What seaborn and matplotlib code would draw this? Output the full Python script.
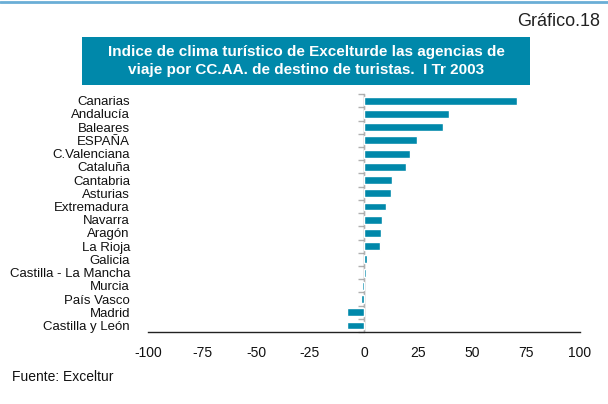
import pandas as pd
import matplotlib.pyplot as plt
import seaborn as sns
from matplotlib.patches import Rectangle
from matplotlib.lines import Line2D

# data
regions = ['Canarias', 'Andalucía', 'Baleares', 'ESPAÑA', 'C.Valenciana', 'Cataluña',
           'Cantabria', 'Asturias', 'Extremadura', 'Navarra', 'Aragón', 'La Rioja',
           'Galicia', 'Castilla - La Mancha', 'Murcia', 'País Vasco', 'Madrid',
           'Castilla y León']
values = [71, 39.5, 36.4, 24.7, 21.5, 19.3, 12.8, 12.3, 10.0, 8.2, 7.7, 7.2,
          1.6, 0.8, -1.1, -1.5, -8.0, -8.0]
xticks = [-100, -75, -50, -25, 0, 25, 50, 75, 100]

df = pd.DataFrame({'region': regions, 'value': values})

sns.set_style('white')
plt.rcParams['font.family'] = ['Liberation Sans', 'DejaVu Sans']

fig = plt.figure(figsize=(6.08, 4.04), dpi=100)
ax = fig.add_axes([0.2434, 0.178, 0.7105, 0.589])

sns.barplot(data=df, x='value', y='region', orient='h', color='#0088AA',
            width=0.6, saturation=1, ax=ax, zorder=2)

ax.set_xlim(-100, 100)
ax.set_xticks(xticks)
ax.set_xticklabels([str(t) for t in xticks], fontsize=10, color='#111111')
ax.set_ylim(len(regions) - 0.5, -0.5)
ax.set_xlabel('')
ax.set_ylabel('')
ax.tick_params(axis='x', direction='out', length=4, width=1, color='#222222', pad=6)
ax.tick_params(axis='y', length=0, pad=13, labelsize=9.5, labelcolor='#111111')

for s in ['top', 'right', 'left']:
    ax.spines[s].set_visible(False)
ax.spines['bottom'].set_color('#222222')
ax.spines['bottom'].set_linewidth(1)

# vertical axis at zero with small category ticks
ax.axvline(0, color='#B0B0B0', lw=1, zorder=1.5)
sec = ax.secondary_yaxis(0.5)
sec.set_yticks([i - 0.5 for i in range(len(regions) + 1)])
sec.set_yticklabels([])
sec.yaxis.set_ticks_position('left')
sec.tick_params(axis='y', direction='out', length=4, color='#B0B0B0', width=1)
sec.spines['left'].set_visible(False)

# header decorations
fig.add_artist(Line2D([0, 1], [0.996, 0.996], color='#6AAED6', lw=2,
                      transform=fig.transFigure))
fig.text(0.987, 0.948, 'Gráfico.18', ha='right', va='center', fontsize=13,
         color='#222222')
fig.add_artist(Rectangle((82 / 608, 1 - 85 / 404), (530 - 82) / 608, 48 / 404,
                         transform=fig.transFigure, facecolor='#0088AA',
                         edgecolor='none'))
fig.text(306 / 608, 1 - 61 / 404,
         'Indice de clima turístico de Excelturde las agencias de\n'
         'viaje por CC.AA. de destino de turistas.  I Tr 2003',
         ha='center', va='center', fontsize=11, color='white',
         fontweight='bold', linespacing=1.3)

fig.text(12 / 608, 1 - 377 / 404, 'Fuente: Exceltur', ha='left', va='center',
         fontsize=10, color='#111111')

fig.savefig('out.png', dpi=100)
